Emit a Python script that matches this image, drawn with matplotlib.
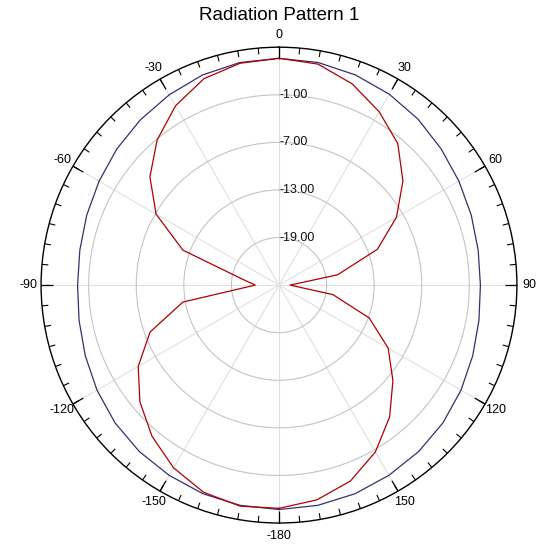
import numpy as np
import matplotlib
matplotlib.use("Agg")
import matplotlib.pyplot as plt

plt.rcParams["font.family"] = ["Liberation Sans", "DejaVu Sans"]

# angles in degrees, 0 at top, clockwise
angles_deg = [-180, -170, -160, -150, -140, -130, -120, -110, -100, -90,
              -80, -70, -60, -50, -40, -30, -20, -10, 0,
              10, 20, 30, 40, 50, 60, 70, 80, 90,
              100, 110, 120, 130, 140, 150, 160, 170, 180]

# trace 1 (red), dB
pattern_red = [3.15, 3.3, 2.8, 1.6, -0.1, -2.1, -4.5, -7.7, -12.7, -22.0,
               -20.1, -12.1, -7.1, -3.75, -1.1, 1.1, 2.7, 3.4, 3.6,
               3.3, 2.0, 0.25, -1.7, -4.6, -7.9, -11.8, -17.5, -23.6,
               -18.1, -12.9, -9.1, -6.25, -3.3, -0.7, 1.3, 2.5, 3.15]

# trace 2 (dark blue), dB
pattern_blue = [3.3, 3.2, 3.0, 2.7, 2.4, 2.0, 1.5, 1.0, 0.6, 0.4,
                0.5, 0.8, 1.2, 1.7, 2.2, 2.7, 3.2, 3.5, 3.6,
                3.5, 3.2, 2.8, 2.3, 1.7, 1.2, 0.8, 0.5, 0.4,
                0.6, 1.0, 1.5, 2.0, 2.4, 2.7, 3.0, 3.2, 3.3]

r_min, r_max = -25, 5
ring_values = [-19, -13, -7, -1]
ring_labels = ["-19.00", "-13.00", "-7.00", "-1.00"]
theta_ticks = [0, 30, 60, 90, 120, 150, 180, 210, 240, 270, 300, 330]
theta_labels = ["0", "30", "60", "90", "120", "150", "-180",
                "-150", "-120", "-90", "-60", "-30"]

fig = plt.figure(figsize=(5.58, 5.52), dpi=100)
ax = fig.add_axes([0.0735, 0.0525, 0.853, 0.862], projection="polar")
ax.set_theta_zero_location("N")
ax.set_theta_direction(-1)
ax.set_ylim(r_min, r_max)

th = np.radians(angles_deg)
ax.plot(th, pattern_blue, color="#3a2d6e", lw=0.9, zorder=3)
ax.plot(th, pattern_red, color="#b00000", lw=0.9, zorder=4)

# grid
ax.set_yticks(ring_values)
ax.set_yticklabels([])
ax.yaxis.grid(True, color="#c4c4c4", lw=0.8)
ax.set_xticks(np.radians(theta_ticks))
ax.set_xticklabels(theta_labels, fontsize=9)
ax.xaxis.grid(True, which="major", color="#e0e0e0", lw=0.8)
ax.tick_params(axis="x", which="both", length=0, pad=2)
ax.tick_params(axis="y", length=0)
ax.spines["polar"].set_color("black")
ax.spines["polar"].set_linewidth(1.0)

# inward tick marks on the outer ring: every 5 deg, longer every 30 deg
minor = np.radians(np.arange(0, 360, 5))
major = np.radians(theta_ticks)
ax.vlines(minor, r_max - 0.8, r_max, color="black", lw=0.8, zorder=5, clip_on=False)
ax.vlines(major, r_max - 1.5, r_max, color="black", lw=0.9, zorder=5, clip_on=False)

for v, lbl in zip(ring_values, ring_labels):
    ax.text(0, v, lbl, ha="left", va="center", fontsize=9, color="#111111", zorder=5)

fig.text(0.5, 1 - 15 / 552, "Radiation Pattern 1", ha="center", va="center", fontsize=13.5)

fig.savefig("out.png", dpi=100)
